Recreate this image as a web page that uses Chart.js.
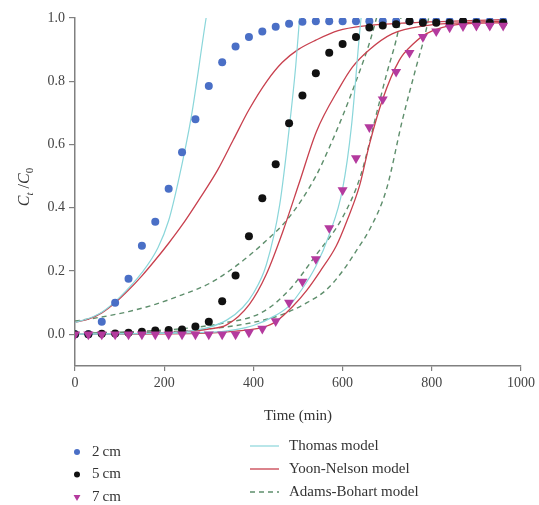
<!DOCTYPE html>
<html>
<head>
<meta charset="utf-8">
<script src="https://cdn.jsdelivr.net/npm/chart.js@4.4.1/dist/chart.umd.min.js"></script>
<style>
html, body { margin: 0; padding: 0; background: #fff; }
#wrap { width: 539px; height: 505px; }
</style>
</head>
<body>
<div id="wrap"><canvas id="myChart" width="539" height="505"></canvas></div>
<script>
// Sampling times of the measured points (min)
var TIME = [0, 30, 60, 90, 120, 150, 180, 210, 240, 270, 300, 330, 360, 390, 420, 450, 480,
            510, 540, 570, 600, 630, 660, 690, 720, 750, 780, 810, 840, 870, 900, 930, 960];

// Measured Ct/C0 for the three bed heights
var BED_2CM = [0, 0, 0.04, 0.10, 0.176, 0.28, 0.356, 0.46, 0.576, 0.68, 0.785, 0.86, 0.91, 0.94, 0.957, 0.972, 0.982,
               0.988, 0.99, 0.99, 0.99, 0.99, 0.99, 0.99, 0.99, 0.99, 0.99, 0.99, 0.99, 0.99, 0.99, 0.99, 0.99];
var BED_5CM = [0, 0, 0.002, 0.003, 0.005, 0.008, 0.012, 0.014, 0.015, 0.025, 0.04, 0.105, 0.186, 0.31, 0.43, 0.538, 0.667,
               0.755, 0.825, 0.89, 0.918, 0.94, 0.97, 0.976, 0.98, 0.99, 0.985, 0.985, 0.985, 0.99, 0.985, 0.985, 0.985];
var BED_7CM = [0, 0, 0, 0, 0, 0, 0, 0, 0, 0, 0, 0, 0, 0.006, 0.018, 0.042, 0.1,
               0.167, 0.238, 0.336, 0.456, 0.557, 0.655, 0.743, 0.83, 0.89, 0.94, 0.958, 0.97, 0.974, 0.976, 0.976, 0.976];

// Thomas model curves
var THOMAS_2_T = [0, 30, 60, 100, 150, 186, 210, 231, 261, 294, 300];
var THOMAS_2_V = [0.038, 0.05, 0.07, 0.117, 0.195, 0.274, 0.36, 0.48, 0.69, 1.0, 1.05];
var THOMAS_5_T = [0, 180, 240, 300, 340, 376, 400, 429, 459, 481, 495, 503, 510];
var THOMAS_5_V = [0.001, 0.004, 0.008, 0.022, 0.045, 0.085, 0.13, 0.22, 0.41, 0.66, 0.85, 0.99, 1.1];
var THOMAS_7_T = [0, 300, 360, 400, 450, 480, 510, 540, 570, 600, 620, 640, 650];
var THOMAS_7_V = [0.001, 0.006, 0.015, 0.028, 0.06, 0.09, 0.145, 0.215, 0.315, 0.46, 0.66, 0.98, 1.1];

// Yoon-Nelson model curves
var YOON_2_T = [0, 30, 60, 90, 120, 150, 180, 210, 240, 280, 320, 355, 390, 430, 465, 500, 540, 590, 650, 750, 850, 960];
var YOON_2_V = [0.038, 0.048, 0.068, 0.10, 0.14, 0.185, 0.235, 0.288, 0.345, 0.43, 0.52, 0.615, 0.71, 0.80, 0.86, 0.90, 0.93, 0.96, 0.975, 0.985, 0.99, 0.995];
var YOON_5_T = [0, 180, 240, 300, 340, 391, 429, 466, 503, 541, 593, 622, 660, 711, 787, 870, 960];
var YOON_5_V = [0.001, 0.004, 0.008, 0.017, 0.03, 0.095, 0.19, 0.325, 0.48, 0.64, 0.78, 0.845, 0.90, 0.95, 0.976, 0.985, 0.99];
var YOON_7_T = [0, 300, 360, 420, 450, 488, 520, 550, 586, 610, 638, 660, 689, 727, 760, 787, 861, 960];
var YOON_7_V = [0, 0.004, 0.01, 0.022, 0.04, 0.088, 0.14, 0.2, 0.28, 0.36, 0.47, 0.6, 0.74, 0.866, 0.92, 0.95, 0.98, 0.985];

// Adams-Bohart model curves
var ADAMS_2_T = [0, 60, 120, 180, 240, 300, 360, 420, 480, 540, 570, 600, 630, 660, 680];
var ADAMS_2_V = [0.042, 0.055, 0.072, 0.095, 0.125, 0.16, 0.215, 0.285, 0.37, 0.50, 0.59, 0.69, 0.80, 0.92, 1.02];
var ADAMS_5_T = [0, 120, 240, 330, 420, 480, 540, 600, 640, 680, 700, 720, 735];
var ADAMS_5_V = [0.003, 0.008, 0.018, 0.035, 0.07, 0.14, 0.25, 0.37, 0.50, 0.72, 0.83, 0.93, 1.03];
var ADAMS_7_T = [0, 300, 400, 459, 520, 563, 600, 638, 660, 698, 734, 765, 787, 800];
var ADAMS_7_V = [0.001, 0.017, 0.038, 0.06, 0.10, 0.14, 0.2, 0.28, 0.33, 0.457, 0.677, 0.845, 0.96, 1.05];

var BED_LABELS = ['2\u2009cm', '5\u2009cm', '7\u2009cm'];
var MODEL_LABELS = ['Thomas model', 'Yoon-Nelson model', 'Adams-Bohart model'];
var X_TICKS = [0, 200, 400, 600, 800, 1000];
var Y_TICKS = [0, 0.2, 0.4, 0.6, 0.8, 1.0];

var SERIF = '"Liberation Serif", "DejaVu Serif", serif';
var BLUE = '#4a6fc6';
var PURPLE = '#b43a9e';
var CYAN = '#8ad6da';
var RED = '#c8404e';
var GREEN = '#5e8e6c';

function pairs(t, v) {
    return t.map(function (x, i) { return { x: x, y: v[i] }; });
}

function markerSet(label, values, color, style, radius, rotation, order) {
    return {
        label: label,
        data: pairs(TIME, values),
        backgroundColor: color,
        borderColor: color,
        borderWidth: 0,
        pointStyle: style,
        pointRadius: radius,
        pointRotation: rotation,
        showLine: false,
        order: order
    };
}

function modelSet(label, t, v, color, dash, width) {
    return {
        label: label,
        data: pairs(t, v),
        borderColor: color,
        backgroundColor: color,
        borderWidth: width,
        borderDash: dash,
        pointRadius: 0,
        showLine: true,
        cubicInterpolationMode: 'monotone',
        order: 5
    };
}

var datasets = [
    markerSet(BED_LABELS[0], BED_2CM, BLUE, 'circle', 4, 0, 2),
    markerSet(BED_LABELS[1], BED_5CM, '#111', 'circle', 4, 0, 1),
    markerSet(BED_LABELS[2], BED_7CM, PURPLE, 'triangle', 5.8, 180, 0),
    modelSet(MODEL_LABELS[0], THOMAS_2_T, THOMAS_2_V, CYAN, [], 1.2),
    modelSet(MODEL_LABELS[0], THOMAS_5_T, THOMAS_5_V, CYAN, [], 1.2),
    modelSet(MODEL_LABELS[0], THOMAS_7_T, THOMAS_7_V, CYAN, [], 1.2),
    modelSet(MODEL_LABELS[1], YOON_2_T, YOON_2_V, RED, [], 1.3),
    modelSet(MODEL_LABELS[1], YOON_5_T, YOON_5_V, RED, [], 1.3),
    modelSet(MODEL_LABELS[1], YOON_7_T, YOON_7_V, RED, [], 1.3),
    modelSet(MODEL_LABELS[2], ADAMS_2_T, ADAMS_2_V, GREEN, [5, 4], 1.4),
    modelSet(MODEL_LABELS[2], ADAMS_5_T, ADAMS_5_V, GREEN, [5, 4], 1.4),
    modelSet(MODEL_LABELS[2], ADAMS_7_T, ADAMS_7_V, GREEN, [5, 4], 1.4)
];

// y axis title with subscripts, and the two-column legend under the plot
var extrasPlugin = {
    id: 'extras',
    afterDraw: function (chart) {
        var ctx = chart.ctx;
        ctx.save();

        // Ct /C0
        ctx.translate(24, 187);
        ctx.rotate(-Math.PI / 2);
        ctx.fillStyle = '#333';
        ctx.textBaseline = 'alphabetic';
        var parts = [
            { t: 'C', f: 'italic 16px ' + SERIF, dy: 0 },
            { t: 't', f: 'italic 11px ' + SERIF, dy: 4 },
            { t: ' /', f: '16px ' + SERIF, dy: 0 },
            { t: 'C', f: 'italic 16px ' + SERIF, dy: 0 },
            { t: '0', f: '11px ' + SERIF, dy: 4 }
        ];
        var total = 0;
        parts.forEach(function (p) { ctx.font = p.f; p.w = ctx.measureText(p.t).width; total += p.w; });
        var x = -total / 2;
        parts.forEach(function (p) { ctx.font = p.f; ctx.fillText(p.t, x, 5 + p.dy); x += p.w; });
        ctx.restore();

        ctx.save();
        ctx.font = '15px ' + SERIF;
        ctx.textBaseline = 'middle';
        ctx.textAlign = 'left';
        for (var i = 0; i < BED_LABELS.length; i++) {
            var ds = chart.data.datasets[i];
            var y = 452 + i * 22.5;
            ctx.fillStyle = ds.backgroundColor;
            Chart.helpers.drawPoint(ctx, {
                pointStyle: ds.pointStyle,
                radius: ds.pointStyle === 'triangle' ? 4 : 3,
                rotation: ds.pointRotation,
                borderWidth: 0
            }, 77, y);
            ctx.fillStyle = '#333';
            ctx.fillText(ds.label, 92, y);
        }
        var styles = [datasets[3], datasets[6], datasets[9]];
        for (var j = 0; j < MODEL_LABELS.length; j++) {
            var yy = 446 + j * 23;
            ctx.strokeStyle = styles[j].borderColor;
            ctx.lineWidth = styles[j].borderWidth;
            ctx.setLineDash(styles[j].borderDash);
            ctx.beginPath();
            ctx.moveTo(250, yy);
            ctx.lineTo(279, yy);
            ctx.stroke();
            ctx.setLineDash([]);
            ctx.fillStyle = '#333';
            ctx.fillText(MODEL_LABELS[j], 289, yy);
        }
        ctx.restore();
    }
};

var ctx = document.getElementById('myChart').getContext('2d');
var myChart = new Chart(ctx, {
    type: 'scatter',
    data: { datasets: datasets },
    plugins: [extrasPlugin],
    options: {
        responsive: false,
        animation: false,
        layout: { padding: { left: 0, top: 18, right: 17, bottom: 80 } },
        plugins: {
            legend: { display: false },
            tooltip: { enabled: false }
        },
        scales: {
            x: {
                type: 'linear',
                min: 0,
                max: 1000,
                afterFit: function (s) { s.height = 59; },
                afterBuildTicks: function (s) { s.ticks = X_TICKS.map(function (v) { return { value: v }; }); },
                border: { color: '#808080', width: 1.5 },
                grid: { drawOnChartArea: false, drawTicks: true, tickLength: 5, color: '#808080', lineWidth: 1.2 },
                ticks: {
                    color: '#444',
                    padding: 4,
                    maxRotation: 0,
                    font: { family: SERIF, size: 14 },
                    callback: function (v) { return String(v); }
                },
                title: { display: true, text: 'Time (min)', color: '#333', padding: 0, font: { family: SERIF, size: 15 } }
            },
            y: {
                min: -0.1,
                max: 1.0,
                afterFit: function (s) { s.width = 75; },
                afterBuildTicks: function (s) { s.ticks = Y_TICKS.map(function (v) { return { value: v }; }); },
                border: { color: '#808080', width: 1.5 },
                grid: { drawOnChartArea: false, drawTicks: true, tickLength: 6, color: '#808080', lineWidth: 1.2 },
                ticks: {
                    color: '#444',
                    padding: 4,
                    font: { family: SERIF, size: 14 },
                    callback: function (v) { return Number(v).toFixed(1); }
                }
            }
        }
    }
});
</script>
</body>
</html>
